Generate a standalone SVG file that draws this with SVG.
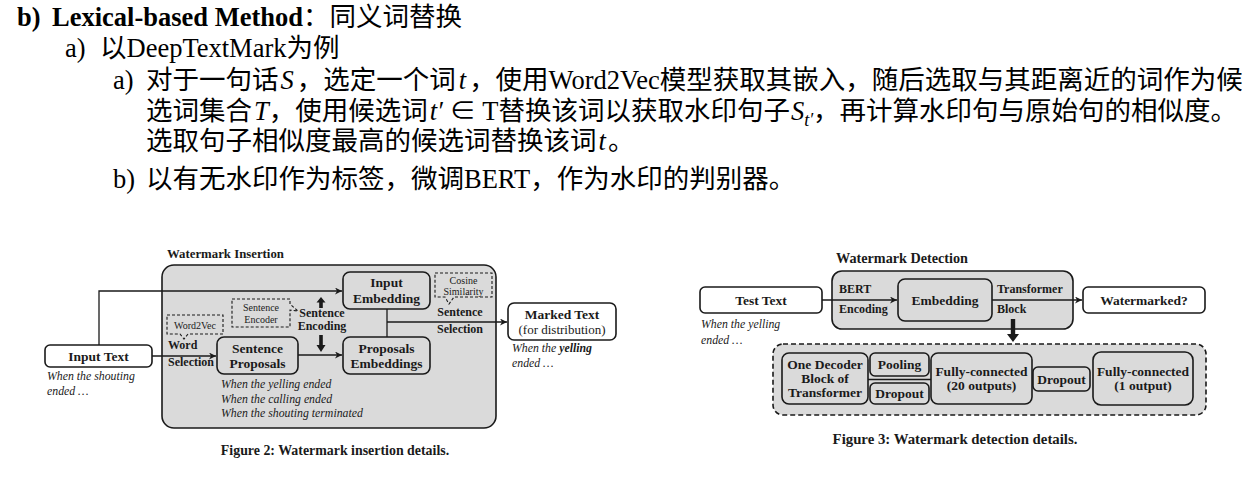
<svg xmlns="http://www.w3.org/2000/svg" width="1242" height="482" viewBox="0 0 1242 482">
<style>
.t{font-family:"Liberation Serif","Noto Sans CJK SC",serif;font-size:26.5px;fill:#000}
.b{font-weight:bold}
.m{font-style:italic}
.f{font-family:"Liberation Serif",serif;fill:#1a1a1a}
.lb{font-weight:bold;font-size:12px}
.bx{font-weight:bold;font-size:13.5px;text-anchor:middle}
.it{font-style:italic;font-size:11.8px}
.sm{font-size:10px;text-anchor:middle}
.cap{font-weight:bold;text-anchor:middle}
.gray{fill:#dadada;stroke:#1a1a1a;stroke-width:1.6}
.white{fill:#fff;stroke:#1a1a1a;stroke-width:1.6}
.dash{fill:none;stroke:#1a1a1a;stroke-width:1.1;stroke-dasharray:3,2}
.dashbig{fill:#dadada;stroke:#1a1a1a;stroke-width:1.6;stroke-dasharray:5,3}
.ln{fill:none;stroke:#1a1a1a;stroke-width:1.3}
.thick{fill:#1a1a1a;stroke:none}
</style>
<defs>
<marker id="ah" viewBox="0 0 10 10" refX="10" refY="5" markerWidth="7" markerHeight="7" markerUnits="userSpaceOnUse" orient="auto">
<path d="M0,0 L10,5 L0,10 L3,5 z" fill="#1a1a1a"/>
</marker>
</defs>

<g id="heading-text">
<text class="t b" x="17" y="26">b)</text>
<text class="t" x="52" y="26"><tspan class="b">Lexical-based Method</tspan>：同义词替换</text>
<text class="t" x="65" y="57">a)</text>
<text class="t" x="100" y="57">以DeepTextMark为例</text>
<text class="t" x="113" y="89">a)</text>
<text class="t" x="146" y="89">对于一句话<tspan class="m" dx="2">S</tspan><tspan dx="3">，选定一个词</tspan><tspan class="m" dx="3">t</tspan><tspan dx="3">，使用Word2Vec模型获取其嵌入，随后选取与其距离近的词作为候</tspan></text>
<text class="t" x="146" y="120">选词集合<tspan class="m" dx="2">T</tspan><tspan>，使用候选词</tspan><tspan class="m" dx="2">t′</tspan><tspan> ∈ T</tspan><tspan>替换该词以获取水印句子</tspan><tspan class="m" dx="1">S</tspan><tspan class="m" font-size="18" dy="6">t′</tspan><tspan dy="-6">，再计算水印句与原始句的相似度。</tspan></text>
<text class="t" x="146" y="150">选取句子相似度最高的候选词替换该词<tspan class="m" dx="2">t</tspan><tspan dx="2">。</tspan></text>
<text class="t" x="113" y="188">b)</text>
<text class="t" x="146" y="188">以有无水印作为标签，微调BERT，作为水印的判别器。</text>
</g>

<!-- Figure 2 -->
<g id="insertion-frame">
<text class="f b" x="167" y="258" font-size="12.8">Watermark Insertion</text>
<rect class="gray" x="162" y="265" width="334" height="163" rx="12"/>
</g>

<g id="connectors-insertion">
<polyline class="ln" points="99,345 99,291 342,291" marker-end="url(#ah)"/>
<line class="ln" x1="152" y1="356" x2="216" y2="356" marker-end="url(#ah)"/>
<line class="ln" x1="298" y1="355" x2="342" y2="355" marker-end="url(#ah)"/>
<line class="ln" x1="387" y1="309" x2="387" y2="337"/>
<line class="ln" x1="387" y1="322" x2="507" y2="322" marker-end="url(#ah)"/>
<path class="thick" d="M321,297 L325.5,302.5 L322.8,302.5 L322.8,308 L319.2,308 L319.2,302.5 L316.5,302.5 Z"/>
<path class="thick" d="M321,352 L325.5,345 L322.8,345 L322.8,335 L319.2,335 L319.2,345 L316.5,345 Z"/>
</g>

<g id="input-text">
<rect class="white" x="45" y="345" width="107" height="22" rx="5"/>
<text class="f bx" x="98.5" y="361" font-size="13">Input Text</text>
<text class="f it" x="47" y="380">When the shouting</text>
<text class="f it" x="47" y="395">ended …</text>
</g>

<g id="word2vec">
<path class="dash" d="M167,315 H223 V334 H188 L184,339 L180,334 H167 Z"/>
<text class="f sm" x="195" y="328.5">Word2Vec</text>
<text class="f lb" x="168" y="349">Word</text>
<text class="f lb" x="168" y="366">Selection</text>
</g>

<g id="sentence-proposals">
<rect class="gray" x="217" y="337" width="81" height="37" rx="7"/>
<text class="f bx" x="257.5" y="353">Sentence</text>
<text class="f bx" x="257.5" y="368">Proposals</text>
<text class="f it" x="221" y="388">When the yelling ended</text>
<text class="f it" x="221" y="403">When the calling ended</text>
<text class="f it" x="221" y="417">When the shouting terminated</text>
</g>

<g id="sentence-encoder">
<path class="dash" d="M232,299 H290 V304 L298,311 L290,310 V327 H232 Z"/>
<text class="f sm" x="261" y="311" font-size="10.5">Sentence</text>
<text class="f sm" x="261" y="323" font-size="10.5">Encoder</text>
<text class="f lb" x="322" y="317" text-anchor="middle">Sentence</text>
<text class="f lb" x="322" y="330" text-anchor="middle">Encoding</text>
</g>

<g id="input-embedding">
<rect class="gray" x="343" y="272" width="87" height="37" rx="7"/>
<text class="f bx" x="386.5" y="287">Input</text>
<text class="f bx" x="386.5" y="303">Embedding</text>
</g>

<g id="proposals-embeddings">
<rect class="gray" x="343" y="337" width="87" height="37" rx="7"/>
<text class="f bx" x="386.5" y="353">Proposals</text>
<text class="f bx" x="386.5" y="368">Embeddings</text>
</g>

<g id="cosine-similarity">
<path class="dash" d="M435,273 H492 V297 H454 L449,304 L445,297 H435 Z"/>
<text class="f sm" x="463.5" y="284">Cosine</text>
<text class="f sm" x="463.5" y="295">Similarity</text>
<text class="f lb" x="460" y="316" text-anchor="middle">Sentence</text>
<text class="f lb" x="460" y="333" text-anchor="middle">Selection</text>
</g>

<g id="marked-text">
<rect class="white" x="508" y="303" width="108" height="37" rx="6"/>
<text class="f bx" x="562" y="319">Marked Text</text>
<text class="f" x="562" y="334" font-size="13" text-anchor="middle">(for distribution)</text>
<text class="f it" x="512" y="352">When the <tspan font-weight="bold">yelling</tspan></text>
<text class="f it" x="512" y="367">ended …</text>
</g>

<text class="f cap" x="335" y="455" font-size="13.9">Figure 2: Watermark insertion details.</text>

<!-- Figure 3 -->
<g id="detection-frame">
<text class="f b" x="836" y="263" font-size="14.2">Watermark Detection</text>
<rect class="gray" x="832" y="271" width="241" height="58" rx="10"/>
<rect class="dashbig" x="773" y="344" width="433" height="71" rx="10"/>
</g>

<g id="connectors-detection">
<line class="ln" x1="822" y1="300" x2="897" y2="300" marker-end="url(#ah)"/>
<line class="ln" x1="992" y1="300" x2="1082" y2="300" marker-end="url(#ah)"/>
<line class="ln" x1="868" y1="379.5" x2="931" y2="379.5"/>
<path class="thick" d="M1013,342 L1019,334 L1015.2,334 L1015.2,319 L1010.8,319 L1010.8,334 L1007,334 Z"/>
</g>

<g id="test-text">
<rect class="white" x="700" y="287" width="122" height="26" rx="5"/>
<text class="f bx" x="761" y="305" font-size="14">Test Text</text>
<text class="f it" x="701" y="328" font-size="14.5">When the yelling</text>
<text class="f it" x="701" y="344" font-size="14.5">ended …</text>
</g>

<g id="embedding">
<text class="f lb" x="839" y="293" font-size="13">BERT</text>
<text class="f lb" x="839" y="313" font-size="13">Encoding</text>
<rect class="gray" x="898" y="279" width="94" height="42" rx="7"/>
<text class="f bx" x="945" y="305" font-size="15">Embedding</text>
<text class="f lb" x="997" y="293" font-size="13">Transformer</text>
<text class="f lb" x="997" y="313" font-size="13">Block</text>
</g>

<g id="watermarked">
<rect class="white" x="1083" y="287" width="122" height="26" rx="5"/>
<text class="f bx" x="1144" y="305" font-size="14.5">Watermarked?</text>
</g>

<g id="decoder-block">
<rect class="gray" x="782" y="353" width="86" height="51" rx="7"/>
<text class="f bx" x="825" y="369" font-size="12">One Decoder</text>
<text class="f bx" x="825" y="383" font-size="12">Block of</text>
<text class="f bx" x="825" y="397" font-size="12">Transformer</text>
</g>

<g id="pooling">
<rect class="gray" x="870" y="353" width="59" height="23" rx="5"/>
<text class="f bx" x="899.5" y="369" font-size="12">Pooling</text>
</g>

<g id="dropout-1">
<rect class="gray" x="870" y="383" width="59" height="21" rx="5"/>
<text class="f bx" x="899.5" y="398" font-size="12">Dropout</text>
</g>

<g id="fc-20">
<rect class="gray" x="931" y="353" width="101" height="51" rx="7"/>
<text class="f bx" x="981.5" y="376" font-size="12">Fully-connected</text>
<text class="f bx" x="981.5" y="390" font-size="12">(20 outputs)</text>
</g>

<g id="dropout-2">
<rect class="gray" x="1033" y="367" width="57" height="24" rx="5"/>
<text class="f bx" x="1061.5" y="384" font-size="12">Dropout</text>
</g>

<g id="fc-1">
<rect class="gray" x="1093" y="352" width="100" height="53" rx="8"/>
<text class="f bx" x="1143" y="376" font-size="12">Fully-connected</text>
<text class="f bx" x="1143" y="390" font-size="12">(1 output)</text>
</g>

<text class="f cap" x="955" y="444" font-size="14.8">Figure 3: Watermark detection details.</text>
</svg>
